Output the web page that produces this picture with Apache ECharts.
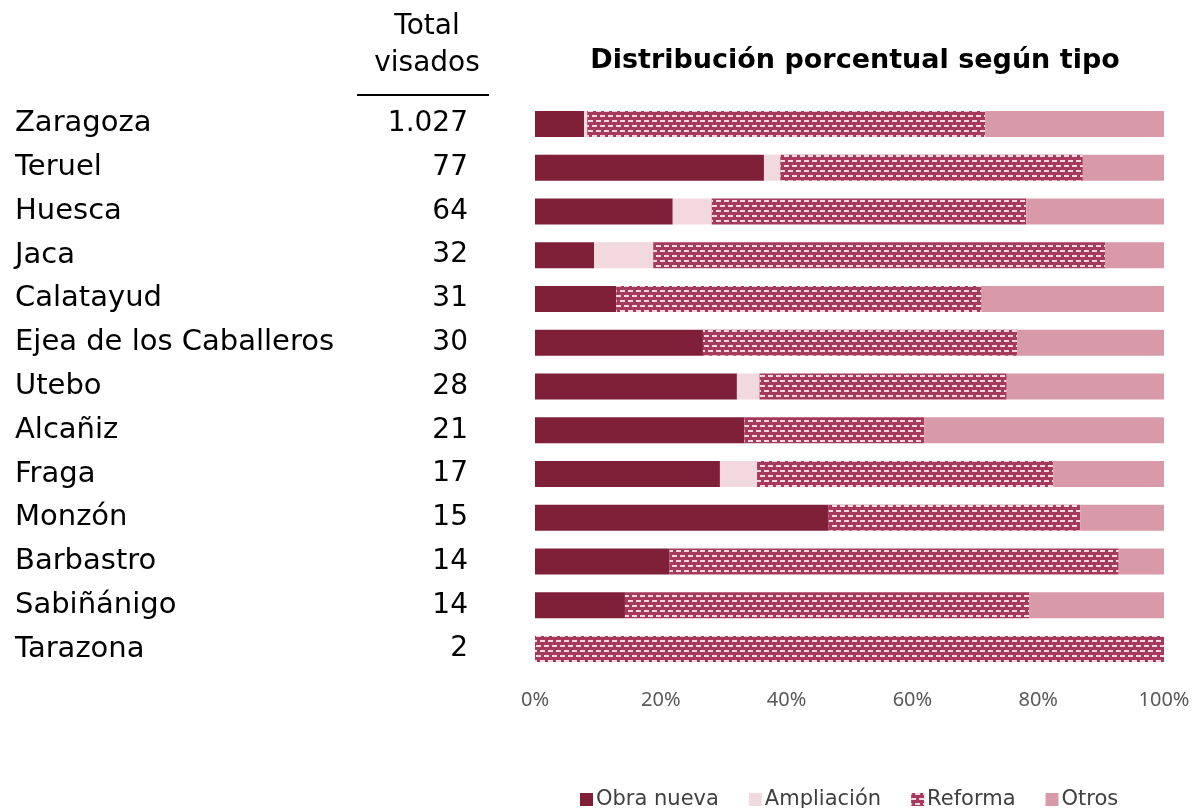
<!DOCTYPE html>
<html>
<head>
<meta charset="utf-8">
<script src="https://cdn.jsdelivr.net/npm/echarts@6/dist/echarts.min.js"></script>
<style>html,body{margin:0;padding:0;background:#fff}#c{width:1201px;height:808px}</style>
</head>
<body>
<div id="c"></div>
<script>
const cities = ['Zaragoza','Teruel','Huesca','Jaca','Calatayud','Ejea de los Caballeros','Utebo','Alcañiz','Fraga','Monzón','Barbastro','Sabiñánigo','Tarazona'];
const totals = ['1.027','77','64','32','31','30','28','21','17','15','14','14','2'];
const obraNueva  = [7.8, 36.4, 21.9, 9.4, 12.9, 26.7, 32.1, 33.3, 29.4, 46.7, 21.4, 14.3, 0];
const ampliacion = [0.5, 2.6, 6.2, 9.4, 0, 0, 3.6, 0, 5.9, 0, 0, 0, 0];
const reforma    = [63.3, 48.1, 50.0, 71.9, 58.1, 50.0, 39.3, 28.6, 47.1, 40.0, 71.4, 64.3, 100];
const otros      = [28.4, 13.0, 21.9, 9.3, 29.0, 23.3, 25.0, 38.1, 17.6, 13.3, 7.2, 21.4, 0];
const xTicks = [0, 20, 40, 60, 80, 100];

const chart = echarts.init(document.getElementById('c'));
const FONT = '"DejaVu Sans", sans-serif';
const decal = {
  symbol: 'rect', symbolSize: 1,
  dashArrayX: [[5, 3], [1, 3, 4, 0]],
  dashArrayY: [2, 3],
  color: 'rgba(250,225,232,0.95)'
};
function bar(name, data, color, extra) {
  return Object.assign({
    name, type: 'bar', stack: 'total', data, barWidth: 26,
    itemStyle: { color }, emphasis: { disabled: true }
  }, extra || {});
}
chart.setOption({
  animation: false,
  textStyle: { fontFamily: FONT },
  title: {
    text: 'Distribución porcentual según tipo',
    left: 850, top: 42, textAlign: 'center',
    textStyle: { fontFamily: FONT, fontSize: 27, fontWeight: 'bold', color: '#000' }
  },
  grid: { left: 535, right: 37, top: 102, bottom: 137 },
  xAxis: {
    type: 'value', min: 0, max: 100, interval: 20,
    splitLine: { show: false }, axisLine: { show: false }, axisTick: { show: false },
    axisLabel: {
      formatter: v => xTicks.includes(v) ? v + '%' : '',
      fontFamily: '"Noto Sans", sans-serif', fontSize: 20, color: '#595959', margin: 19
    }
  },
  yAxis: [
    {
      type: 'category', data: cities, inverse: true, position: 'left',
      axisLine: { show: false }, axisTick: { show: false },
      axisLabel: { align: 'left', margin: 520, fontFamily: FONT, fontSize: 29, color: '#000' }
    },
    {
      type: 'category', data: totals, inverse: true, position: 'left',
      axisLine: { show: false }, axisTick: { show: false },
      axisLabel: { align: 'right', margin: 67, fontFamily: FONT, fontSize: 28, color: '#000' }
    }
  ],
  legend: {
    top: 784, left: 575, itemWidth: 13, itemHeight: 13, itemGap: 30,
    icon: 'rect',
    textStyle: { fontFamily: FONT, fontSize: 21, color: '#404040', padding: [0, 0, 0, -2] },
    data: ['Obra nueva', 'Ampliación', 'Reforma', 'Otros']
  },
  graphic: [
    { type: 'text', x: 427, y: 27, style: { text: 'Total', fontFamily: FONT, fontSize: 28, fill: '#000', align: 'center', verticalAlign: 'middle' } },
    { type: 'text', x: 427, y: 64, style: { text: 'visados', fontFamily: FONT, fontSize: 28, fill: '#000', align: 'center', verticalAlign: 'middle' } },
    { type: 'line', shape: { x1: 357, y1: 95, x2: 489, y2: 95 }, style: { stroke: '#000', lineWidth: 2 } }
  ],
  series: [
    bar('Obra nueva', obraNueva, '#7f1f38'),
    bar('Ampliación', ampliacion, '#f2d9e0'),
    bar('Reforma', reforma, '#a63a5c', { itemStyle: { color: '#a63a5c', decal } }),
    bar('Otros', otros, '#d89aa9')
  ]
});
</script>
</body>
</html>
